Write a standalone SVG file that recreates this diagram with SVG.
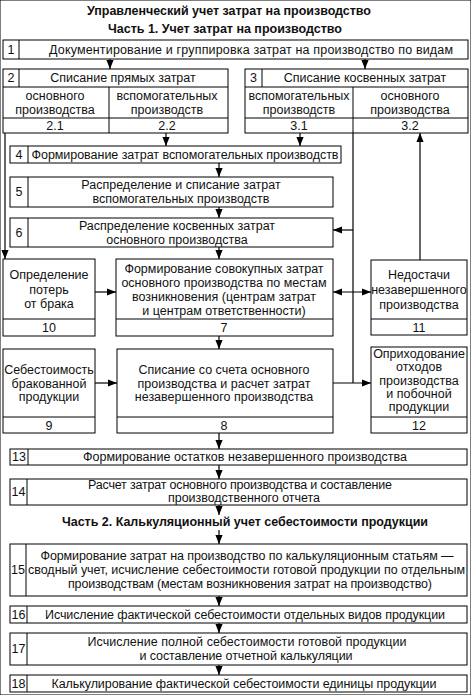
<svg xmlns="http://www.w3.org/2000/svg" width="471" height="695" viewBox="0 0 471 695">
<style>
rect,line.d{fill:none;stroke:#000;stroke-width:1}
rect{fill:#fff}
text{font-family:"Liberation Sans",Arial,sans-serif;font-size:12.5px;fill:#111;text-anchor:middle}
text.h{font-weight:bold;font-size:12.5px}
.c line,.c path{stroke:#000;stroke-width:1.2;fill:none}
</style>
<defs>
<marker id="ah" viewBox="0 0 10 8" refX="10" refY="4" markerWidth="9" markerHeight="8" orient="auto-start-reverse" markerUnits="userSpaceOnUse"><path d="M0,0 L10,4 L0,8 z" fill="#000"/></marker>
</defs>
<rect x="0" y="0" width="471" height="695" fill="#fff" stroke="none"/>
<text class="h" x="229" y="15" textLength="284">Управленческий учет затрат на производство</text>
<text class="h" x="225" y="33" textLength="234">Часть 1. Учет затрат на производство</text>
<text class="h" x="245" y="526" textLength="366">Часть 2. Калькуляционный учет себестоимости продукции</text>

<g class="c">
<line x1="110" y1="59" x2="110" y2="69" marker-end="url(#ah)"/>
<line x1="365" y1="59" x2="365" y2="69" marker-end="url(#ah)"/>
<line x1="166" y1="133" x2="166" y2="146" marker-end="url(#ah)"/>
<line x1="300" y1="133" x2="300" y2="146" marker-end="url(#ah)"/>
<line x1="219" y1="163" x2="219" y2="177" marker-end="url(#ah)"/>
<line x1="219" y1="207" x2="219" y2="218" marker-end="url(#ah)"/>
<line x1="219" y1="247" x2="219" y2="259" marker-end="url(#ah)"/>
<line x1="219" y1="336" x2="219" y2="349" marker-end="url(#ah)"/>
<line x1="219" y1="433" x2="219" y2="449" marker-end="url(#ah)"/>
<line x1="219" y1="465" x2="219" y2="479" marker-end="url(#ah)"/>
<line x1="219" y1="505" x2="219" y2="515" marker-end="url(#ah)"/>
<line x1="219" y1="530" x2="219" y2="544" marker-end="url(#ah)"/>
<line x1="219" y1="596" x2="219" y2="606" marker-end="url(#ah)"/>
<line x1="219" y1="623" x2="219" y2="633" marker-end="url(#ah)"/>
<line x1="219" y1="665" x2="219" y2="675" marker-end="url(#ah)"/>
<line x1="5" y1="133" x2="5" y2="259" marker-end="url(#ah)"/>
<line x1="95" y1="292" x2="116" y2="292" marker-end="url(#ah)"/>
<line x1="95" y1="383" x2="117" y2="383" marker-end="url(#ah)"/>
<path d="M353,133 V383"/>
<line x1="353" y1="230" x2="333" y2="230" marker-end="url(#ah)"/>
<line x1="333" y1="383" x2="371" y2="383" marker-end="url(#ah)"/>
<line x1="333" y1="292" x2="371" y2="292" marker-start="url(#ah)" marker-end="url(#ah)"/>
<line x1="420" y1="260" x2="420" y2="133" marker-end="url(#ah)"/>
</g>

<g id="n1">
<rect x="3" y="40" width="465" height="19"/>
<line class="d" x1="19" y1="40" x2="19" y2="59"/>
<text x="11" y="54">1</text>
<text x="251" y="54" textLength="404">Документирование и группировка затрат на производство по видам</text>
</g>
<g id="n2">
<rect x="3" y="69" width="225" height="64"/>
<line class="d" x1="3" y1="87" x2="228" y2="87"/>
<line class="d" x1="3" y1="118" x2="228" y2="118"/>
<line class="d" x1="19" y1="69" x2="19" y2="87"/>
<line class="d" x1="109" y1="87" x2="109" y2="133"/>
<text x="11" y="82">2</text>
<text x="123" y="82">Списание прямых затрат</text>
<text x="55" y="100">основного</text>
<text x="55" y="114">производства</text>
<text x="167" y="100">вспомогательных</text>
<text x="167" y="114">производств</text>
<text x="55" y="130">2.1</text>
<text x="167" y="130">2.2</text>
</g>
<g id="n3">
<rect x="245" y="69" width="223" height="64"/>
<line class="d" x1="245" y1="87" x2="468" y2="87"/>
<line class="d" x1="245" y1="118" x2="468" y2="118"/>
<line class="d" x1="262" y1="69" x2="262" y2="87"/>
<line class="d" x1="353" y1="87" x2="353" y2="133"/>
<text x="253.5" y="82">3</text>
<text x="365" y="82">Списание косвенных затрат</text>
<text x="299" y="100">вспомогательных</text>
<text x="299" y="114">производств</text>
<text x="410" y="100">основного</text>
<text x="410" y="114">производства</text>
<text x="299" y="130">3.1</text>
<text x="410" y="130">3.2</text>
</g>
<g id="n4">
<rect x="10" y="146" width="331" height="17"/>
<line class="d" x1="28" y1="146" x2="28" y2="163"/>
<text x="19" y="159">4</text>
<text x="185" y="159" textLength="307">Формирование затрат вспомогательных производств</text>
</g>
<g id="n5">
<rect x="10" y="177" width="323" height="30"/>
<line class="d" x1="28" y1="177" x2="28" y2="207"/>
<text x="19" y="196">5</text>
<text x="181" y="189">Распределение и списание затрат</text>
<text x="181" y="203">вспомогательных производств</text>
</g>
<g id="n6">
<rect x="10" y="218" width="323" height="29"/>
<line class="d" x1="28" y1="218" x2="28" y2="247"/>
<text x="19" y="237">6</text>
<text x="177" y="230">Распределение косвенных затрат</text>
<text x="177" y="244">основного производства</text>
</g>
<g id="n10">
<rect x="3" y="259" width="92" height="77"/>
<line class="d" x1="3" y1="319" x2="95" y2="319"/>
<text x="49" y="279">Определение</text>
<text x="49" y="294">потерь</text>
<text x="49" y="308">от брака</text>
<text x="49" y="332">10</text>
</g>
<g id="n7">
<rect x="116" y="259" width="217" height="77"/>
<line class="d" x1="116" y1="319" x2="333" y2="319"/>
<text x="224" y="273">Формирование совокупных затрат</text>
<text x="224" y="287">основного производства по местам</text>
<text x="224" y="301">возникновения (центрам затрат</text>
<text x="224" y="315">и центрам ответственности)</text>
<text x="224" y="332">7</text>
</g>
<g id="n11">
<rect x="371" y="260" width="96" height="75"/>
<line class="d" x1="371" y1="319" x2="467" y2="319"/>
<text x="419" y="279">Недостачи</text>
<text x="419" y="294">незавершенного</text>
<text x="419" y="309">производства</text>
<text x="419" y="332">11</text>
</g>
<g id="n9">
<rect x="3" y="349" width="92" height="84"/>
<line class="d" x1="3" y1="417" x2="95" y2="417"/>
<text x="49" y="374">Себестоимость</text>
<text x="49" y="388">бракованной</text>
<text x="49" y="401">продукции</text>
<text x="49" y="430">9</text>
</g>
<g id="n8">
<rect x="117" y="349" width="216" height="84"/>
<line class="d" x1="117" y1="417" x2="333" y2="417"/>
<text x="224" y="374">Списание со счета основного</text>
<text x="224" y="388">производства и расчет затрат</text>
<text x="224" y="401">незавершенного производства</text>
<text x="224" y="430">8</text>
</g>
<g id="n12">
<rect x="371" y="347" width="96" height="86"/>
<line class="d" x1="371" y1="417" x2="467" y2="417"/>
<text x="419" y="358">Оприходование</text>
<text x="419" y="371">отходов</text>
<text x="419" y="385">производства</text>
<text x="419" y="398">и побочной</text>
<text x="419" y="411">продукции</text>
<text x="419" y="430">12</text>
</g>
<g id="n13">
<rect x="10" y="449" width="457" height="16"/>
<line class="d" x1="28" y1="449" x2="28" y2="465"/>
<text x="19" y="461">13</text>
<text x="245" y="461" textLength="324">Формирование остатков незавершенного производства</text>
</g>
<g id="n14">
<rect x="10" y="479" width="457" height="26"/>
<line class="d" x1="27" y1="479" x2="27" y2="505"/>
<text x="18.5" y="496">14</text>
<text x="240" y="489" textLength="304">Расчет затрат основного производства и составление</text>
<text x="244" y="502" textLength="152">производственного отчета</text>
</g>
<g id="n15">
<rect x="10" y="544" width="457" height="52"/>
<line class="d" x1="26" y1="544" x2="26" y2="596"/>
<text x="18" y="574">15</text>
<text x="247" y="560" textLength="413">Формирование затрат на производство по калькуляционным статьям —</text>
<text x="246.5" y="574" textLength="437">сводный учет, исчисление себестоимости готовой продукции по отдельным</text>
<text x="250" y="588" textLength="364">производствам (местам возникновения затрат на производство)</text>
</g>
<g id="n16">
<rect x="10" y="606" width="457" height="17"/>
<line class="d" x1="27" y1="606" x2="27" y2="623"/>
<text x="18.5" y="619">16</text>
<text x="245" y="619" textLength="400">Исчисление фактической себестоимости отдельных видов продукции</text>
</g>
<g id="n17">
<rect x="10" y="633" width="457" height="32"/>
<line class="d" x1="27" y1="633" x2="27" y2="665"/>
<text x="18.5" y="653">17</text>
<text x="247" y="646" textLength="319">Исчисление полной себестоимости готовой продукции</text>
<text x="246" y="660" textLength="213">и составление отчетной калькуляции</text>
</g>
<g id="n18">
<rect x="10" y="675" width="457" height="17"/>
<line class="d" x1="27" y1="675" x2="27" y2="692"/>
<text x="18.5" y="688">18</text>
<text x="244" y="688" textLength="385">Калькулирование фактической себестоимости единицы продукции</text>
</g>
</svg>
